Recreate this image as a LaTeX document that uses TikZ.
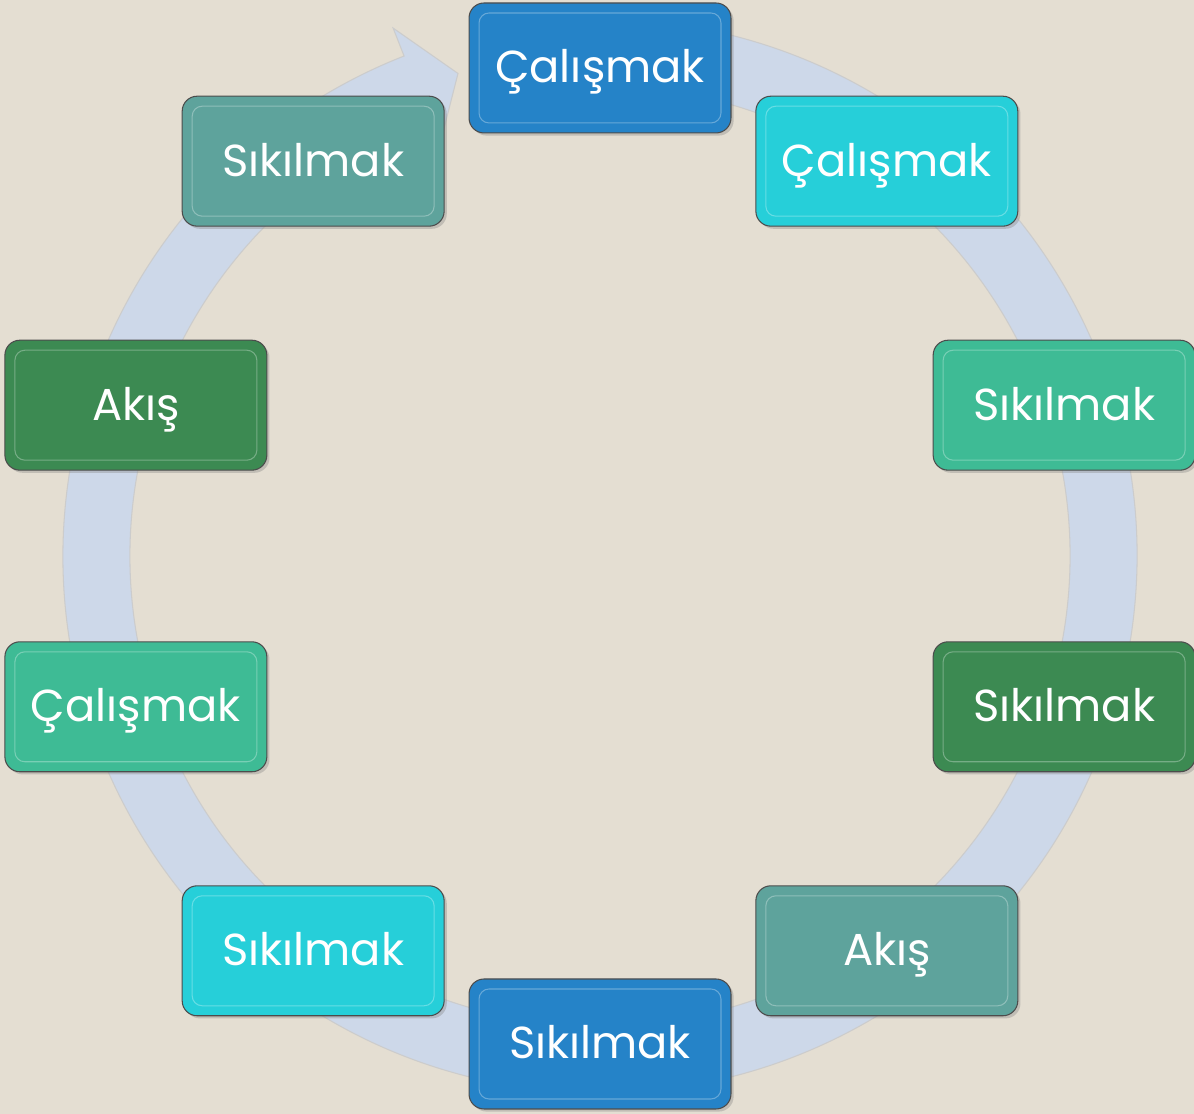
\documentclass[tikz,border=0pt]{standalone}
\usepackage{fontspec}
\setmainfont{Poppins}
\usetikzlibrary{calc,shadows}
\definecolor{bgcol}{RGB}{228,222,210}
\definecolor{ringcol}{RGB}{205,216,233}
\definecolor{stepblue}{RGB}{37,131,200}
\definecolor{stepcyan}{RGB}{38,207,217}
\definecolor{stepmint}{RGB}{62,187,149}
\definecolor{stepgreen}{RGB}{60,138,82}
\definecolor{stepteal}{RGB}{94,163,156}

\begin{document}
\begin{tikzpicture}[x=0.02cm,y=0.02cm,
                    font=\fontsize{25.5}{30}\selectfont]
  \tikzstyle{cyclebox}=[rectangle,rounded corners=0.3cm,draw=black!70,line width=0.6pt,
     minimum width=5.24cm,minimum height=2.6cm,inner sep=0pt,text=white,
     text height=18.5pt,text depth=1.5pt,
     drop shadow={shadow xshift=1.5pt,shadow yshift=-1.5pt,opacity=0.35},
     path picture={\draw[white,opacity=0.3,rounded corners=0.2cm]
        ([shift={(0.2cm,0.2cm)}]path picture bounding box.south west) rectangle
        ([shift={(-0.2cm,-0.2cm)}]path picture bounding box.north east);}]
  \tikzstyle{ring}=[fill=ringcol,draw=black!20,line width=0.6pt]

  \useasboundingbox (0,0) rectangle (1194,1114);
  \fill[bgcol] (0,0) rectangle (1194,1114);

  \coordinate (c) at (600,558);

  % ring with arrow head
  \path[ring,shift={(c)}] (80:537) arc[start angle=80,end angle=-248.6,radius=537]
     -- (111.4:567) -- (106.4:503) -- (111.4:440) -- (111.4:470)
     arc[start angle=111.4,end angle=440,radius=470] -- cycle;

  \node[cyclebox,fill=stepblue]  (s1)  at ($(c)+(90:488)$)   {Çalışmak};
  \node[cyclebox,fill=stepcyan]  (s2)  at ($(c)+(54:488)$)   {Çalışmak};
  \node[cyclebox,fill=stepmint]  (s3)  at ($(c)+(18:488)$)   {Sıkılmak};
  \node[cyclebox,fill=stepgreen] (s4)  at ($(c)+(-18:488)$)  {Sıkılmak};
  \node[cyclebox,fill=stepteal]  (s5)  at ($(c)+(-54:488)$)  {Akış};
  \node[cyclebox,fill=stepblue]  (s6)  at ($(c)+(-90:488)$)  {Sıkılmak};
  \node[cyclebox,fill=stepcyan]  (s7)  at ($(c)+(-126:488)$) {Sıkılmak};
  \node[cyclebox,fill=stepmint]  (s8)  at ($(c)+(-162:488)$) {Çalışmak};
  \node[cyclebox,fill=stepgreen] (s9)  at ($(c)+(162:488)$)  {Akış};
  \node[cyclebox,fill=stepteal]  (s10) at ($(c)+(126:488)$)  {Sıkılmak};
\end{tikzpicture}
\end{document}
